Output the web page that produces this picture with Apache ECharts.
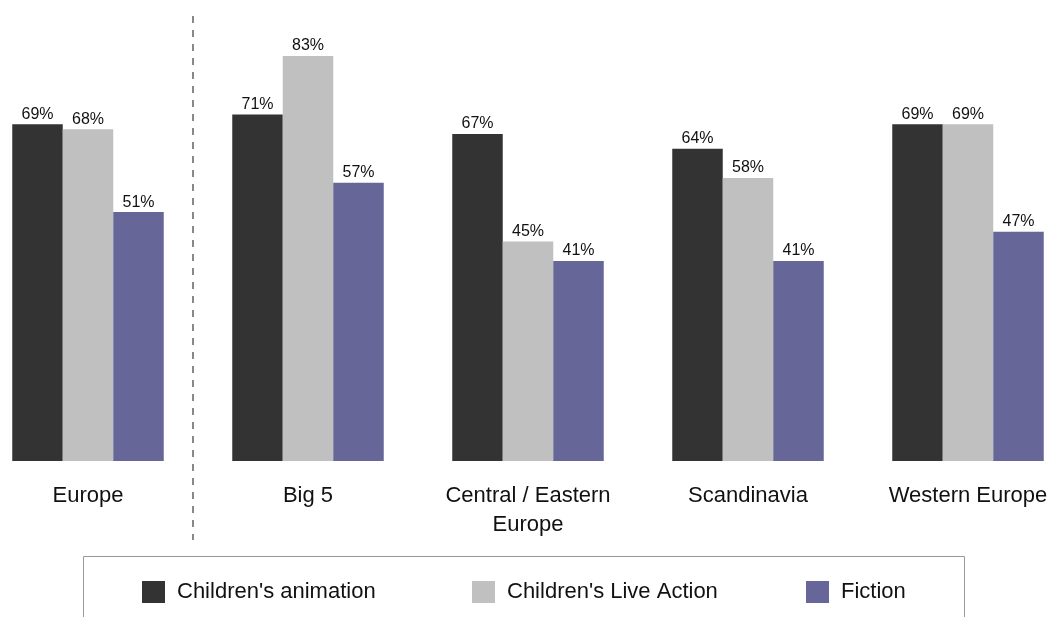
<!DOCTYPE html>
<html>
<head>
<meta charset="utf-8">
<script src="https://cdn.jsdelivr.net/npm/echarts@6/dist/echarts.min.js"></script>
<style>
html,body{margin:0;padding:0;background:#fff;}
#c{width:1052px;height:617px;}
</style>
</head>
<body>
<div id="c"></div>
<script>
const categories = ['Europe', 'Big 5', 'Central / Eastern\nEurope', 'Scandinavia', 'Western Europe'];
const seriesNames = ["Children's animation", "Children's Live Action", 'Fiction'];
const animation = [69, 71, 67, 64, 69];
const liveAction = [68, 83, 45, 58, 69];
const fiction = [51, 57, 41, 41, 47];
const colors = ['#333333', '#c0c0c0', '#666699'];

const font = '"Liberation Sans", Arial, sans-serif';
const chart = echarts.init(document.getElementById('c'), null, {renderer: 'canvas'});
const values = [animation, liveAction, fiction];

const series = values.map((v, i) => ({
  name: seriesNames[i],
  type: 'bar',
  data: v,
  barWidth: 50.5,
  barGap: '0%',
  itemStyle: {color: colors[i]},
  label: {
    show: true,
    position: 'top',
    distance: 2,
    formatter: '{c}%',
    color: '#111',
    fontSize: 16,
    fontFamily: font
  },
  animation: false
}));

const legendPos = [142, 472, 806];
const legends = seriesNames.map((n, i) => ({
  data: [n],
  left: legendPos[i],
  top: 581,
  padding: 0,
  itemWidth: 23,
  itemHeight: 22,
  itemGap: 0,
  icon: 'rect',
  textStyle: {fontSize: 22, color: '#111', fontFamily: font, padding: [0, 0, 0, 7]},
  selectedMode: false
}));

chart.setOption({
  animation: false,
  textStyle: {fontFamily: font},
  grid: {left: 88, right: 84, top: 21.8, bottom: 156, containLabel: false},
  xAxis: {
    type: 'category',
    data: categories,
    boundaryGap: false,
    axisLine: {show: false},
    axisTick: {show: false},
    axisLabel: {
      interval: 0,
      margin: 20,
      fontSize: 22,
      lineHeight: 29,
      color: '#111',
      fontFamily: font
    }
  },
  yAxis: {
    type: 'value',
    min: 0,
    max: 90,
    show: false,
    splitLine: {show: false}
  },
  legend: legends,
  series: series,
  graphic: [
    {
      type: 'line',
      shape: {x1: 193, y1: 16, x2: 193, y2: 540},
      style: {stroke: '#888', lineWidth: 2, lineDash: [7, 7]},
      silent: true
    },
    {
      type: 'rect',
      shape: {x: 83.5, y: 556.5, width: 881, height: 80},
      style: {fill: 'none', stroke: '#999', lineWidth: 1},
      silent: true,
      z: -1
    }
  ]
});
</script>
</body>
</html>
